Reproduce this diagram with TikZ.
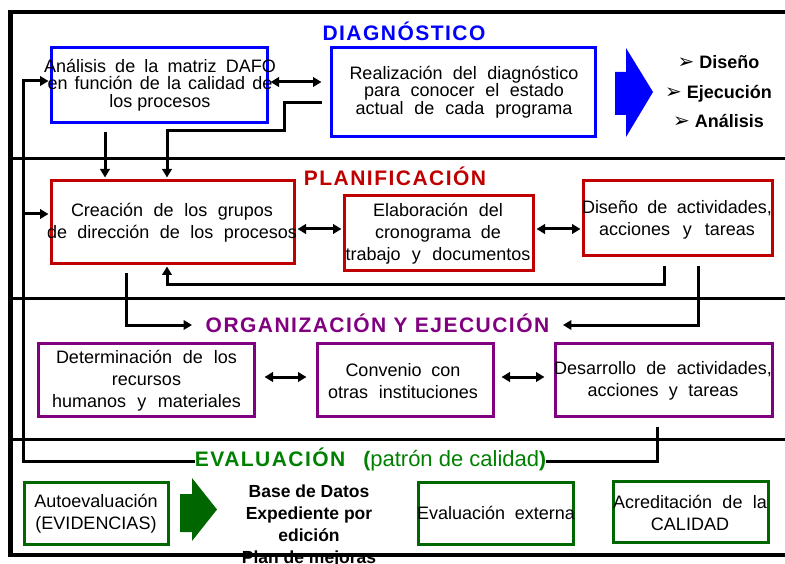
\documentclass[tikz,border=0pt]{standalone}
\usepackage{fontspec}
\setmainfont{Liberation Sans}
\newfontfamily\dejavu{DejaVu Sans}
\newfontfamily\titlefont[LetterSpace=7]{Liberation Sans}
\usetikzlibrary{arrows.meta}
\definecolor{cblue}{RGB}{0,0,255}
\definecolor{cred}{RGB}{192,0,0}
\definecolor{cpurp}{RGB}{128,0,128}
\definecolor{cgreen}{RGB}{0,102,0}
\definecolor{cgreent}{RGB}{0,128,0}
\newcommand{\jl}[2]{\makebox[#1][s]{#2}}
\newcommand{\bul}{{\dejavu\fontsize{20}{20}\selectfont ➢}\ }
\tikzset{
  box/.style={draw, line width=3pt, inner sep=0pt},
  txt/.style={inner sep=0pt, align=center, font=\fontsize{18}{22}\selectfont},
  txttop/.style={inner sep=0pt, align=center, font=\fontsize{18}{17.5}\selectfont},
  ttl/.style={inner sep=0pt, anchor=base, font=\titlefont\bfseries\fontsize{21}{21}\selectfont},
  conn/.style={line width=3pt},
  arr/.style={conn, -{Triangle[length=8.5pt,width=9.5pt]}, shorten >=1.5pt},
  darr/.style={conn, {Triangle[length=8.5pt,width=9.5pt]}-{Triangle[length=8.5pt,width=9.5pt]}, shorten >=1.5pt, shorten <=1.5pt},
  frame/.style={line width=4.5pt},
  divider/.style={line width=3pt}
}
\begin{document}
\begin{tikzpicture}[x=1pt,y=-1pt]
\useasboundingbox (0,0) rectangle (785,564);

% ---------- boxes ----------
\node[box, draw=cblue, minimum width=216pt, minimum height=75pt] (ana) at (159.5,85) {};
\node[box, draw=cblue, minimum width=264pt, minimum height=89pt] (rea) at (463.5,92) {};
\node[box, draw=cred, minimum width=243pt, minimum height=83pt] (cre) at (173,222) {};
\node[box, draw=cred, minimum width=189pt, minimum height=75pt] (ela) at (439,233) {};
\node[box, draw=cred, minimum width=189pt, minimum height=75pt] (dis) at (678,218) {};
\node[box, draw=cpurp, minimum width=216pt, minimum height=73pt] (det) at (146.5,380) {};
\node[box, draw=cpurp, minimum width=176pt, minimum height=73pt] (con) at (405.5,380) {};
\node[box, draw=cpurp, minimum width=217pt, minimum height=73pt] (des) at (664,380) {};
\node[box, draw=cgreen, minimum width=144pt, minimum height=62pt] (aut) at (96.5,513.5) {};
\node[box, draw=cgreen, minimum width=155pt, minimum height=62pt] (eve) at (496,513.5) {};
\node[box, draw=cgreen, minimum width=155pt, minimum height=61pt] (acr) at (691,512) {};

% ---------- box texts ----------
\node[txttop] (ana-t) at (160,85) {\jl{232pt}{Análisis de la matriz DAFO}\\\jl{225pt}{en función de la calidad de}\\los procesos};
\node[txttop] (rea-t) at (464,92) {\jl{229pt}{Realización del diagnóstico}\\\jl{200pt}{para conocer el estado}\\\jl{217pt}{actual de cada programa}};
\node[txt] (cre-t) at (172,222.5) {\jl{202pt}{Creación de los grupos}\\\jl{250pt}{de dirección de los procesos}};
\node[txt] (ela-t) at (438,234) {\jl{130pt}{Elaboración del}\\\jl{126pt}{cronograma de}\\\jl{185pt}{trabajo y documentos}};
\node[txt] (dis-t) at (677,219.5) {\jl{190pt}{Diseño de actividades,}\\\jl{156pt}{acciones y tareas}};
\node[txt] (det-t) at (146.5,381) {\jl{181pt}{Determinación de los}\\recursos\\\jl{189pt}{humanos y materiales}};
\node[txt] (con-t) at (403,381) {\jl{115pt}{Convenio con}\\\jl{150pt}{otras instituciones}};
\node[txt] (des-t) at (663,381) {\jl{218pt}{Desarrollo de actividades,}\\\jl{151pt}{acciones y tareas}};
\node[txt] (aut-t) at (96,514) {Autoevaluación\\(EVIDENCIAS)};
\node[txt] (eve-t) at (496,513) {\jl{158pt}{Evaluación externa}};
\node[txt] (acr-t) at (690,513) {\jl{154pt}{Acreditación de la}\\CALIDAD};

% ---------- titles ----------
\node[ttl, text=cblue] (dia) at (404,40.7) {DIAGNÓSTICO};
\node[ttl, text=cred] (pla) at (395,186) {PLANIFICACIÓN};
\node[ttl, text=cpurp, inner xsep=12pt] (orgt) at (377.5,333) {ORGANIZACIÓN Y EJECUCIÓN};
\node[inner sep=0pt, anchor=base, text=cgreent] (evt) at (370.5,466)
  {{\titlefont\bfseries\fontsize{21}{21}\selectfont EVALUACIÓN\hspace{18pt}(}{\fontsize{22}{21}\selectfont patrón de calidad}{\bfseries\fontsize{21}{21}\selectfont )}};

% ---------- side lists ----------
\node[inner sep=0pt, align=center, font=\bfseries\fontsize{18}{29.5}\selectfont] (lst) at (718.5,92)
  {\bul Diseño\\\bul Ejecución\\\bul Análisis};
\node[inner sep=0pt, align=center, anchor=north, font=\bfseries\fontsize{17.5}{22}\selectfont] (bdd) at (309,484.5)
  {Base de Datos\\Expediente por\\edición\\Plan de mejoras};

% ---------- block arrows ----------
\fill[cblue] (615,72) -- (626,72) -- (626,48) -- (653,92) -- (626,137) -- (626,115) -- (615,115) -- cycle;
\fill[cgreen] (180,494) -- (192,494) -- (192,478) -- (217,509.5) -- (192,541) -- (192,532) -- (180,532) -- cycle;

% ---------- helper coordinates ----------
\coordinate (a1) at (0,82);
\coordinate (x105) at (105,0);
\coordinate (r1) at (284,103);
\coordinate (r2) at (284,131);
\coordinate (r3) at (167,131);
\coordinate (d1) at (664,285);
\coordinate (d2) at (167,285);
\coordinate (e1) at (126,325);
\coordinate (f1) at (698,325);
\coordinate (g1) at (657,461);
\coordinate (h1) at (23,461);
\coordinate (h2) at (23,81);
\coordinate (h3) at (23,214);
\coordinate (y229) at (0,229);
\coordinate (y377) at (0,377);

% ---------- connectors ----------
\draw[darr, shorten >=8.5pt] (ana.east |- a1) -- (rea.west |- a1);
\draw[arr, shorten <=8.5pt] (ana.south -| x105) -- (cre.north -| x105);
\draw[arr, shorten <=8.5pt] (rea.west |- r1) -- (r1) -- (r2) -- (r3) -- (cre.north -| r3);
\draw[darr] (cre.east |- y229) -- (ela.west |- y229);
\draw[darr] (ela.east |- y229) -- (dis.west |- y229);
\draw[arr, shorten <=9.5pt] (dis.south -| d1) -- (d1) -- (d2) -- (cre.south -| d2);
\draw[arr, shorten <=8.5pt] (cre.south -| e1) -- (e1) -- (orgt.west |- e1);
\draw[arr, shorten <=9.5pt] (dis.south -| f1) -- (f1) -- (orgt.east |- f1);
\draw[darr, shorten <=8.5pt, shorten >=9.5pt] (det.east |- y377) -- (con.west |- y377);
\draw[darr, shorten <=6.5pt, shorten >=9.5pt] (con.east |- y377) -- (des.west |- y377);
\draw[conn, shorten <=8.5pt] (des.south -| g1) -- (g1) -- (evt.east |- g1);
\draw[arr] (evt.west |- h1) -- (h1) -- (h2) -- (ana.west |- h2);
\draw[arr] (h3) -- (cre.west |- h3);

% ---------- frame ----------
\draw[divider] (10.5,158.5) -- (790,158.5);
\draw[divider] (10.5,298.5) -- (790,298.5);
\draw[divider] (10.5,439) -- (790,439);
\draw[frame] (790,12) -- (10.5,12) -- (10.5,555) -- (790,555);
\end{tikzpicture}
\end{document}
